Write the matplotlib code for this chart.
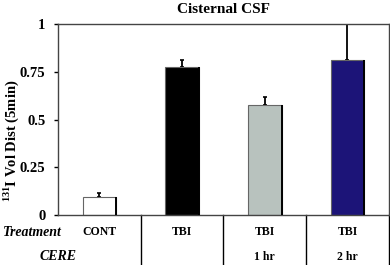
import matplotlib
matplotlib.use("Agg")
import matplotlib.pyplot as plt
import numpy as np

# data
groups = ["CONT", "TBI", "TBI", "TBI"]
cere = ["", "", "1 hr", "2 hr"]
values = [0.095, 0.775, 0.578, 0.812]
errors = [0.02, 0.035, 0.04, 0.25]
colors = ["white", "black", "#b8c2be", "#1c1478"]
yticks = [0, 0.25, 0.5, 0.75, 1]
yticklabels = ["0", "0.25", "0.5", "0.75", "1"]

plt.rcParams["font.family"] = "Liberation Serif"
plt.rcParams["font.weight"] = "bold"
plt.rcParams["mathtext.fontset"] = "custom"
plt.rcParams["mathtext.rm"] = "Liberation Serif:bold"
plt.rcParams["mathtext.bf"] = "Liberation Serif:bold"

fig = plt.figure(figsize=(3.9, 2.65), dpi=100)
ax = fig.add_axes([0.149, 0.189, 0.848, 0.72])

x = np.arange(len(values))
w = 0.41
ax.bar(x, values, width=w, color=colors, edgecolor="#666666", linewidth=0.8, zorder=2)
# darker right edge of each bar
ax.vlines(x + w / 2, 0, values, color="black", linewidth=1.4, zorder=3)
ax.errorbar(x, values, yerr=[np.zeros(len(errors)), errors], fmt="none",
            ecolor="black", elinewidth=1.3, capsize=1.5, capthick=1.2, zorder=1)

ax.set_xlim(-0.5, 3.5)
ax.set_ylim(0, 1)
ax.set_yticks(yticks)
ax.set_yticklabels(yticklabels, fontsize=10.5, fontweight="bold")
ax.set_xticks([])
ax.tick_params(axis="y", length=3, width=1, direction="out", pad=6)
for s in ax.spines.values():
    s.set_linewidth(1)
    s.set_color("#444444")

ax.set_title("Cisternal CSF", fontsize=11, fontweight="bold", pad=8)
fig.text(0.028, 0.47, r"$^{131}$I Vol Dist (5min)", rotation=90, ha="center",
         va="center", fontsize=10.5, fontweight="bold")

# table below the axes
row1 = -0.09
row2 = -0.22
for xi, g, c in zip(x, groups, cere):
    ax.text(xi, row1, g, transform=ax.get_xaxis_transform(), ha="center", va="center",
            fontsize=8.5, fontweight="bold")
    if c:
        ax.text(xi, row2, c, transform=ax.get_xaxis_transform(), ha="center", va="center",
                fontsize=8.5, fontweight="bold")
for d in [0.5, 1.5, 2.5, 3.5]:
    ax.plot([d, d], [0, -0.28], transform=ax.get_xaxis_transform(), color="black",
            linewidth=1, clip_on=False)
fig.text(0.008, 1 - 232 / 265, "Treatment", ha="left", va="center", fontsize=10,
         fontweight="bold", style="italic")
fig.text(0.195, 1 - 257 / 265, "CERE", ha="right", va="center", fontsize=10,
         fontweight="bold", style="italic")

fig.savefig("out.png", dpi=100)
